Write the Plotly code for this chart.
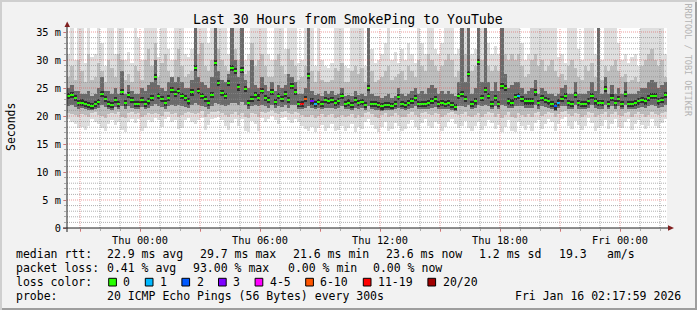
import plotly.graph_objects as go
import pandas as pd

# ---------------- data ----------------
START = "2026-01-14 20:21:00"
END = "2026-01-16 02:21:00"
STEP_MIN = 10
PINGS = 20

median_ms = [
    23.5, 23.8, 23.2, 22.3, 22.4, 22.1, 21.9, 21.8, 22.1, 22.5, 24.0, 23.0, 22.2, 21.9, 22.9,
    22.1, 24.3, 22.3, 23.8, 22.9, 22.2, 22.2, 22.8, 22.2, 22.6, 23.2, 27.0, 23.5, 23.1, 22.3,
    23.2, 24.6, 23.9, 24.4, 23.5, 23.2, 22.6, 24.2, 28.6, 24.5, 23.5, 23.1, 22.3, 23.8, 29.4,
    25.9, 24.1, 23.5, 25.9, 28.5, 28.0, 25.1, 28.2, 24.8, 22.3, 23.1, 23.7, 23.3, 24.5, 23.2,
    22.9, 24.3, 22.5, 23.5, 23.1, 23.9, 22.9, 25.3, 24.3, 22.1, 22.1, 23.1, 27.1, 22.6, 22.2,
    22.5, 22.2, 22.9, 22.7, 22.9, 22.3, 22.6, 23.5, 22.2, 22.4, 22.0, 22.8, 22.3, 22.5, 22.0,
    25.0, 22.1, 22.1, 21.9, 21.7, 22.0, 21.9, 21.8, 22.1, 23.4, 22.1, 21.9, 22.3, 22.7, 23.2,
    22.1, 22.1, 22.1, 22.3, 22.7, 23.0, 22.1, 22.3, 22.1, 22.3, 21.9, 21.6, 23.6, 23.9, 23.0,
    27.5, 22.1, 22.6, 29.7, 23.2, 24.7, 23.6, 22.1, 23.2, 22.1, 25.3, 25.0, 22.6, 22.4, 23.4,
    23.5, 23.1, 22.6, 22.6, 22.6, 24.2, 22.3, 23.2, 22.9, 22.6, 22.1, 21.7, 22.4, 23.1, 23.5,
    22.3, 22.1, 23.8, 22.3, 22.1, 22.1, 22.6, 23.6, 22.6, 22.3, 22.3, 24.8, 22.1, 23.3, 22.3,
    23.1, 22.1, 24.0, 22.1, 22.1, 22.3, 22.6, 22.9, 22.6, 23.2, 23.6, 23.5, 22.6, 22.9, 23.8,
]

# outermost (lightest) smoke: highest ping of each step (36 = beyond the top)
smoke_top = [
    31, 36, 30, 36, 36, 29.5, 36, 30.5, 31, 36, 33, 29, 36, 36, 31,
    36, 36, 30, 31.5, 29.5, 36, 34, 30, 36, 36, 36, 36, 30.5, 36, 36,
    32, 30, 36, 36, 36, 31, 30.5, 32, 36, 36, 36, 36, 33, 36, 36,
    36, 36, 36, 31, 36, 36, 36, 36, 30, 31, 36, 36, 36, 36, 36,
    31, 30, 36, 36, 36, 32, 36, 36, 36, 29.5, 30, 36, 36, 36, 29,
    36, 30, 29, 28.5, 29.5, 36, 36, 36, 29, 28.5, 36, 36, 36, 36, 29,
    36, 32, 29.5, 30, 31, 33, 36, 30, 31.5, 29.5, 32, 30, 33, 31, 29.5,
    36, 33, 31, 36, 36, 32, 31, 33, 36, 36, 36, 31, 32, 36, 36,
    36, 31, 32, 36, 36, 36, 33, 31, 32.5, 31, 36, 36, 36, 36, 36,
    36, 33, 30, 31, 36, 36, 36, 36, 36, 36, 36, 36, 30.5, 31, 29.5,
    36, 36, 36, 32, 30, 36, 36, 36, 31, 36, 30, 36, 36, 36, 36,
    33, 30, 31, 29.5, 30.5, 31, 29, 36, 36, 36, 36, 36, 36, 36, 31,
]

# middle smoke top
smoke_upper = [
    27, 29, 26.5, 30, 28, 26, 31, 26.5, 27, 29.5, 28, 26, 30, 28.5, 27,
    31, 30, 26.5, 27.5, 26, 29, 28, 26.5, 30, 32, 29, 33, 27, 29.5, 31,
    28, 27, 30, 32, 29, 27, 27.5, 28, 36, 31, 33, 29, 28, 30, 36,
    32, 30, 29, 28, 36, 32, 30, 36, 27.5, 28, 33, 29, 30, 31, 29,
    27, 27, 30, 31, 29, 27.5, 32, 30, 29, 26.5, 27, 29, 36, 28, 26,
    28, 26.5, 26, 26, 26.5, 28.5, 28, 29.5, 26, 26, 28, 29, 27.5, 28.5, 26,
    36, 28, 26, 26.5, 27, 28, 29, 26.5, 27, 27.5, 28, 26.5, 29, 28, 27,
    30, 29, 28, 31, 30, 29, 28, 29, 30, 31, 30, 27, 28, 36, 31,
    36, 28, 29, 36, 30, 36, 29, 28, 29, 28, 36, 31, 30, 31, 30,
    31, 29, 27, 27.5, 30, 31, 29, 30, 28, 29, 30, 28, 27, 27.5, 26.5,
    29, 30, 28.5, 27, 26.5, 29, 28, 29.5, 27, 36, 26.5, 29, 28, 29, 30,
    28, 27, 27.5, 26, 26.5, 27, 26, 29, 30, 31, 32, 30, 29, 30, 27,
]

# dark inner smoke top
smoke_inner_top = [
    25, 25.5, 24.5, 24.5, 24, 24, 24.5, 23.5, 24, 25, 27, 24.5, 24.5, 24, 25,
    24, 28, 24, 25.5, 24.5, 24, 24, 25, 24.5, 25.5, 26, 30, 25.5, 25, 24.5,
    26, 27, 26, 27, 26, 25, 25, 26.5, 36, 27, 26, 25.5, 25, 27, 36,
    28, 26.5, 26, 27.5, 36, 30, 27, 36, 26.5, 25, 30, 25.5, 25, 27, 25.5,
    24.5, 26, 24.5, 25.5, 25, 25.5, 27.5, 27, 26, 24, 24, 25, 36, 24.5, 23.8,
    24, 23.5, 24.5, 24, 24.5, 23.8, 24, 25, 23.5, 23.8, 23.5, 24.5, 23.8, 24, 23.5,
    36, 24, 23.5, 23.5, 23.2, 23.5, 24, 23.3, 23.5, 25, 24, 23.5, 24, 24.5, 25,
    24, 24.5, 24, 25, 25.5, 25, 24, 24.5, 24, 24.5, 24, 23.5, 26, 36, 26,
    36, 24, 25, 36, 26, 36, 26, 24.5, 26, 24.5, 36, 27.5, 25, 25.5, 26,
    26, 25, 24, 24.5, 25, 26.5, 24, 25, 24.5, 24, 24, 23.5, 24, 25, 25.5,
    24, 24, 26, 24, 24, 24, 24.5, 26, 24.5, 36, 24, 27, 24, 25.5, 24,
    25, 24, 26, 24, 24, 24, 24.5, 25, 25, 26, 26.5, 26, 25, 25.5, 26,
]

# dark inner smoke bottom
smoke_inner_bot = [
    21.8, 21.9, 21.6, 21.3, 21.4, 21.2, 21.0, 21.1, 21.2, 21.5, 21.9, 21.6, 21.3, 21.0, 21.6,
    21.2, 21.8, 21.3, 21.7, 21.5, 21.2, 21.3, 21.6, 21.2, 21.4, 21.7, 22.1, 21.8, 21.6, 21.3,
    21.7, 22.0, 21.8, 21.9, 21.7, 21.6, 21.4, 21.9, 22.3, 22.0, 21.8, 21.6, 21.3, 21.8, 22.4,
    22.2, 21.9, 21.7, 22.0, 22.4, 22.3, 21.9, 22.5, 22.0, 21.3, 21.7, 21.9, 21.7, 22.0, 21.7,
    21.5, 21.9, 21.4, 21.8, 21.6, 21.9, 21.5, 22.0, 21.9, 21.2, 21.2, 21.5, 21.8, 21.4, 21.2,
    21.4, 21.2, 21.5, 21.4, 21.5, 21.2, 21.4, 21.8, 21.2, 21.3, 21.1, 21.5, 21.2, 21.4, 21.1,
    21.7, 21.2, 21.1, 21.0, 20.9, 21.1, 21.0, 21.0, 21.2, 21.5, 21.2, 21.0, 21.3, 21.5, 21.7,
    21.2, 21.2, 21.2, 21.3, 21.5, 21.6, 21.2, 21.3, 21.2, 21.3, 21.0, 20.9, 21.7, 21.8, 21.6,
    21.9, 21.2, 21.5, 22.0, 21.7, 21.9, 21.7, 21.2, 21.7, 21.2, 21.9, 21.8, 21.5, 21.4, 21.7,
    21.8, 21.7, 21.5, 21.5, 21.5, 21.9, 21.3, 21.7, 21.6, 21.5, 21.2, 20.9, 21.4, 21.7, 21.8,
    21.3, 21.2, 21.9, 21.3, 21.2, 21.2, 21.5, 21.9, 21.5, 21.3, 21.3, 22.0, 21.2, 21.8, 21.3,
    21.7, 21.2, 21.9, 21.2, 21.2, 21.3, 21.5, 21.6, 21.5, 21.7, 21.9, 21.8, 21.5, 21.6, 21.9,
]

# middle smoke bottom
smoke_lower = [
    20.6, 20.3, 20.1, 19.9, 20.4, 20.2, 19.8, 20.5, 20.7, 20.2, 20.0, 19.7, 20.4, 20.6, 20.3,
    20.8, 19.9, 19.6, 20.5, 20.7, 20.4, 20.6, 19.8, 20.1, 20.5, 20.3, 20.6, 20.4, 20.0, 20.7,
    20.8, 20.4, 20.6, 19.9, 20.2, 20.6, 20.8, 20.5, 20.3, 20.6, 20.9, 19.8, 20.4, 20.7, 20.8,
    20.9, 20.6, 20.2, 19.8, 20.4, 20.7, 20.1, 20.6, 19.9, 19.7, 20.5, 20.3, 19.8, 20.8, 20.5,
    20.7, 21.0, 20.6, 20.3, 20.8, 20.9, 20.6, 20.4, 20.7, 20.5, 20.2, 19.9, 19.8, 20.1, 19.7,
    20.0, 20.3, 19.8, 20.1, 20.4, 19.7, 19.9, 20.2, 19.8, 20.0, 20.4, 19.7, 20.1, 19.9, 20.5,
    20.8, 20.3, 19.9, 19.7, 20.2, 20.5, 19.8, 20.0, 20.5, 20.2, 19.8, 19.9, 20.4, 20.7, 20.2,
    19.9, 20.5, 20.8, 20.3, 20.1, 20.6, 20.4, 19.8, 20.1, 20.5, 20.8, 20.4, 20.1, 20.3, 20.7,
    20.0, 19.8, 20.2, 20.6, 19.9, 20.3, 20.7, 20.5, 19.9, 20.3, 19.7, 20.1, 20.7, 19.8, 19.7,
    20.6, 20.2, 19.9, 20.3, 19.8, 20.5, 20.7, 20.0, 20.4, 20.8, 20.5, 19.8, 20.4, 20.7, 20.9,
    20.3, 20.0, 20.6, 20.3, 19.9, 20.2, 20.8, 20.5, 19.8, 20.1, 20.3, 20.7, 19.9, 20.4, 20.7,
    20.2, 20.0, 20.5, 20.8, 19.9, 20.4, 20.7, 20.3, 19.9, 20.2, 20.8, 20.3, 20.1, 20.5, 20.7,
]

# outermost smoke bottom: lowest ping of each step
smoke_bottom = [
    19.5, 19.0, 18.5, 17.8, 18.0, 17.5, 18.2, 19.5, 19.0, 18.5, 17.8, 17.3, 18.6, 19.2, 18.4,
    19.0, 17.5, 17.2, 19.0, 19.5, 18.8, 19.4, 17.4, 17.9, 19.3, 18.9, 19.6, 19.2, 18.1, 19.5,
    19.8, 18.9, 19.3, 17.6, 17.9, 19.2, 19.6, 19.0, 18.5, 19.3, 19.7, 17.5, 18.4, 19.4, 19.6,
    19.8, 19.2, 18.3, 17.5, 18.7, 19.5, 18.2, 19.4, 17.4, 17.2, 19.1, 18.6, 17.3, 19.6, 18.9,
    19.4, 20.0, 19.2, 18.5, 19.7, 19.9, 19.3, 18.8, 19.5, 18.9, 18.2, 17.6, 17.4, 18.1, 17.2,
    17.8, 18.4, 17.3, 17.9, 18.6, 17.3, 17.5, 18.2, 17.4, 17.9, 18.6, 17.2, 18.0, 17.6, 19.0,
    19.5, 18.4, 17.6, 17.2, 18.1, 18.9, 17.4, 17.7, 18.8, 18.2, 17.3, 17.6, 18.5, 19.2, 18.1,
    17.5, 18.8, 19.4, 18.2, 17.8, 19.0, 18.5, 17.4, 18.0, 18.9, 19.4, 18.6, 17.9, 18.3, 19.1,
    17.8, 17.3, 18.2, 18.9, 17.5, 18.3, 19.2, 18.7, 17.6, 18.4, 17.2, 18.0, 19.3, 17.4, 17.1,
    19.0, 18.2, 17.5, 18.4, 17.3, 18.8, 19.3, 17.6, 18.5, 19.5, 18.9, 17.4, 18.6, 19.4, 19.8,
    18.3, 17.7, 19.1, 18.4, 17.5, 18.2, 19.6, 18.8, 17.4, 17.9, 18.3, 19.2, 17.6, 18.5, 19.4,
    18.1, 17.8, 18.9, 19.5, 17.5, 18.6, 19.3, 18.4, 17.6, 18.2, 19.5, 18.3, 17.9, 18.8, 19.4,
]

# packet loss (percent) at the few steps that had any
loss_pct_at = {70: 93.0, 71: 35.0, 73: 15.0, 74: 5.0, 135: 5.0, 146: 10.0, 147: 5.0}

loss_labels = ["0", "1", "2", "3", "4-5", "6-10", "11-19", "20/20"]
loss_colors = ["#26ff00", "#00b8ff", "#0059ff", "#7e00ff", "#ff00ff", "#ff5500", "#ff0000", "#a10000"]
loss_max_pings = [0, 1, 2, 3, 5, 10, 19, 20]

y_tick_vals = [0, 5, 10, 15, 20, 25, 30, 35]
y_tick_text = ["0", "5 m", "10 m", "15 m", "20 m", "25 m", "30 m", "35 m"]
x_tick_vals = ["2026-01-14 21:00", "2026-01-15 00:00", "2026-01-15 03:00", "2026-01-15 06:00",
               "2026-01-15 09:00", "2026-01-15 12:00", "2026-01-15 15:00", "2026-01-15 18:00",
               "2026-01-15 21:00", "2026-01-16 00:00"]
x_tick_text = ["", "Thu 00:00", "", "Thu 06:00", "", "Thu 12:00", "", "Thu 18:00", "", "Fri 00:00"]

title_text = "Last 30 Hours from SmokePing to YouTube"
unit_text = "Seconds"
watermark_text = "RRDTOOL / TOBI OETIKER"
rtt_row = [("median rtt:", 16), ("22.9 ms avg", 107.3), ("29.7 ms max", 200.3), ("21.6 ms min", 293.3),
           ("23.6 ms now", 386.0), ("1.2 ms sd", 479.3), ("19.3", 559.0), ("am/s", 607.3)]
loss_row = [("packet loss:", 16), ("0.41 % avg", 107.3), ("93.00 % max", 193.0),
            ("0.00 % min", 288.0), ("0.00 % now", 373.0)]
probe_row = [("probe:", 16), ("20 ICMP Echo Pings (56 Bytes) every 300s", 107.3)]
stamp_text = "Fri Jan 16 02:17:59 2026"

# ---------------- geometry / style ----------------
W, H = 697, 310
PL, PR, PT, PB = 67, 667, 28, 228          # plot area in pixels
Y_MAX = 200 / 5.6                          # 5.6 px per ms
FONT = "DejaVu Sans Mono"
GRID = "rgba(143,143,143,0.7)"
MGRID = "rgba(222,79,79,0.55)"
ARROW = "#801f1f"
AXIS = "#1f1f1f"
CORE_HALF = 0.55                           # half height of the darkest smoke core (ms)


def px(x):
    return (x - PL) / (PR - PL)


def py(y):
    return (PB - y) / (PB - PT)


t0 = pd.Timestamp(START)
centers = [t0 + pd.Timedelta(minutes=STEP_MIN * (i + 0.5)) for i in range(len(median_ms))]
bar_w = STEP_MIN * 60 * 1000


def band(bottom, top, color):
    return go.Bar(x=centers, y=[t - b for t, b in zip(top, bottom)], base=bottom, width=bar_w,
                  marker=dict(color=color, line=dict(width=0)), hoverinfo="skip")


def loss_color(i):
    lost = round(loss_pct_at.get(i, 0.0) * PINGS / 100.0)
    for lim, col in zip(loss_max_pings, loss_colors):
        if lost <= lim:
            return col
    return loss_colors[-1]


fig = go.Figure()
fig.add_trace(band(smoke_bottom, smoke_top, "#dedede"))
fig.add_trace(band(smoke_lower, smoke_upper, "#bdbdbd"))
fig.add_trace(band(smoke_inner_bot, smoke_inner_top, "#6a6a6a"))
fig.add_trace(band([m - CORE_HALF for m in median_ms], [m + CORE_HALF for m in median_ms], "#2e2e2e"))
dot_h = 2 / 5.6
fig.add_trace(go.Bar(x=centers, y=[dot_h] * len(median_ms), base=[m - dot_h / 2 for m in median_ms],
                     width=bar_w, marker=dict(color=[loss_color(i) for i in range(len(median_ms))],
                                              line=dict(width=0)), hoverinfo="skip"))

shapes = []
# grid drawn above the data, like rrdtool
hours = pd.date_range("2026-01-14 21:00", "2026-01-16 02:00", freq="1h")
for h in hours:
    major = h.hour % 3 == 0
    shapes.append(dict(type="line", xref="x", yref="paper", x0=h, x1=h, y0=0, y1=1, layer="above",
                       line=dict(color=MGRID if major else GRID, width=1, dash="1px,1px")))
for v in range(1, 36):
    major = v % 5 == 0
    shapes.append(dict(type="line", xref="paper", yref="y", x0=0, x1=1, y0=v, y1=v, layer="above",
                       line=dict(color=MGRID if major else GRID, width=1, dash="1px,1px")))
# axes lines and arrows
shapes.append(dict(type="line", xref="paper", yref="paper", x0=px(63), x1=px(670), y0=0, y1=0,
                   line=dict(color=AXIS, width=1), layer="above"))
shapes.append(dict(type="line", xref="paper", yref="paper", x0=0, x1=0, y0=py(232), y1=py(25),
                   line=dict(color=AXIS, width=1), layer="above"))
shapes.append(dict(type="path", xref="paper", yref="paper",
                   path=f"M {px(64.5)} {py(27)} L {px(70)} {py(27)} L {px(67.2)} {py(21.5)} Z",
                   fillcolor=ARROW, line=dict(width=0), layer="above"))
shapes.append(dict(type="path", xref="paper", yref="paper",
                   path=f"M {px(668)} {py(225.3)} L {px(668)} {py(230.7)} L {px(674)} {py(228)} Z",
                   fillcolor=ARROW, line=dict(width=0), layer="above"))
# 3D frame
shapes += [
    dict(type="rect", xref="paper", yref="paper", x0=px(0), x1=px(W), y0=py(0), y1=py(2),
         fillcolor="#cfcfcf", line=dict(width=0)),
    dict(type="rect", xref="paper", yref="paper", x0=px(0), x1=px(2), y0=py(0), y1=py(H),
         fillcolor="#cfcfcf", line=dict(width=0)),
    dict(type="rect", xref="paper", yref="paper", x0=px(2), x1=px(W), y0=py(H - 2), y1=py(H),
         fillcolor="#9e9e9e", line=dict(width=0)),
    dict(type="rect", xref="paper", yref="paper", x0=px(W - 2), x1=px(W), y0=py(2), y1=py(H),
         fillcolor="#9e9e9e", line=dict(width=0)),
]

annotations = []


def text(s, x, y, size, anchor="left", angle=0, color="#000000"):
    annotations.append(dict(text=s, xref="paper", yref="paper", x=px(x), y=py(y), xanchor=anchor,
                            yanchor="middle", showarrow=False, textangle=angle, borderpad=0,
                            borderwidth=0, font=dict(family=FONT, size=size, color=color)))


text(title_text, 348, 19.5, 13.2, anchor="center")
text(unit_text, 11, 127, 11.5, anchor="center", angle=-90)
text(watermark_text, 687.5, 60, 8.5, anchor="center", angle=90, color="#b4b4b4")

LEG = 11.5
for s, x in rtt_row:
    text(s.replace(" ", "\u00a0"), x, 254, LEG)
for s, x in loss_row:
    text(s.replace(" ", "\u00a0"), x, 268, LEG)
text("loss\u00a0color:", 16, 282, LEG)
sx = 108.7
for lab, col in zip(loss_labels, loss_colors):
    shapes.append(dict(type="rect", xref="paper", yref="paper", x0=px(sx), x1=px(sx + 7.7),
                       y0=py(278.3), y1=py(286), fillcolor=col, line=dict(color="#000000", width=1)))
    lx = sx + 14.6
    text(lab, lx, 282, LEG)
    sx = lx + len(lab) * 7 + 15
for s, x in probe_row:
    text(s.replace(" ", "\u00a0"), x, 296, LEG)
text(stamp_text.replace(" ", "\u00a0"), 680.5, 296, LEG, anchor="right")

fig.update_layout(
    width=W, height=H, margin=dict(l=PL, r=W - PR, t=PT, b=H - PB, pad=0),
    paper_bgcolor="#f2f2f2", plot_bgcolor="#ffffff", barmode="overlay", bargap=0,
    showlegend=False, font=dict(family=FONT, size=10.3, color="#000000"),
    shapes=shapes, annotations=annotations,
)
fig.update_xaxes(type="date", range=[START, END], tickmode="array", tickvals=x_tick_vals,
                 ticktext=x_tick_text, showgrid=False, zeroline=False, showline=False,
                 ticks="outside", ticklen=3, tickcolor=MGRID, tickfont=dict(family=FONT, size=10.3),
                 minor=dict(dtick=3600000, tick0="2026-01-14 21:00", ticks="outside", ticklen=2,
                            tickcolor=GRID, showgrid=False),
                 fixedrange=True)
fig.update_yaxes(range=[0, Y_MAX], tickmode="array", tickvals=y_tick_vals, ticktext=y_tick_text,
                 showgrid=False, zeroline=False, showline=False, ticks="outside", ticklen=3,
                 tickcolor=MGRID, tickfont=dict(family=FONT, size=10.3),
                 minor=dict(dtick=1, ticks="outside", ticklen=2, tickcolor=GRID, showgrid=False),
                 fixedrange=True)

fig.write_html("out.html")
